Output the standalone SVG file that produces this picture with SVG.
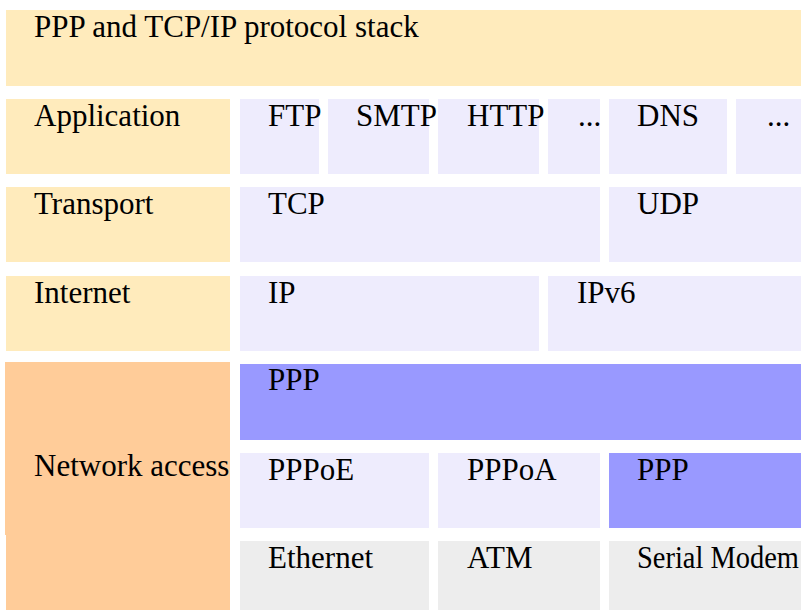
<svg xmlns="http://www.w3.org/2000/svg" width="801" height="610" viewBox="0 0 801 610">
<style>
text{font-family:"Liberation Serif","Times New Roman",serif;font-size:31px;fill:#000}
.y{fill:#FFEBBC}.l{fill:#EEECFD}.p{fill:#9999FF}.o{fill:#FFCC99}.g{fill:#EDEDED}
</style>
<rect width="801" height="610" fill="#fff"/>
<g id="title"><rect class="y" x="6" y="10" width="795" height="76"/><text x="34" y="37">PPP and TCP/IP protocol stack</text></g>
<g id="application"><rect class="y" x="6" y="99" width="224" height="75"/><text x="34" y="126">Application</text></g>
<g id="ftp"><rect class="l" x="240" y="99" width="79" height="75"/><text x="268" y="126">FTP</text></g>
<g id="smtp"><rect class="l" x="328" y="99" width="101" height="75"/><text x="356" y="126">SMTP</text></g>
<g id="http"><rect class="l" x="438" y="99" width="101" height="75"/><text x="467" y="126">HTTP</text></g>
<g id="etc1"><rect class="l" x="548" y="99" width="52" height="75"/><text x="578" y="126">...</text></g>
<g id="dns"><rect class="l" x="609" y="99" width="118" height="75"/><text x="637" y="126">DNS</text></g>
<g id="etc2"><rect class="l" x="736" y="99" width="65" height="75"/><text x="767" y="126">...</text></g>
<g id="transport"><rect class="y" x="6" y="187" width="224" height="75"/><text x="34" y="214">Transport</text></g>
<g id="tcp"><rect class="l" x="240" y="187" width="360" height="75"/><text x="268" y="214">TCP</text></g>
<g id="udp"><rect class="l" x="609" y="187" width="192" height="75"/><text x="637" y="214">UDP</text></g>
<g id="internet"><rect class="y" x="6" y="276" width="224" height="75"/><text x="34" y="303">Internet</text></g>
<g id="ip"><rect class="l" x="240" y="276" width="299" height="75"/><text x="268" y="303">IP</text></g>
<g id="ipv6"><rect class="l" x="548" y="276" width="253" height="75"/><text x="577" y="303">IPv6</text></g>
<g id="network-access"><rect class="o" x="5" y="362" width="225" height="173"/><rect class="o" x="6" y="535" width="224" height="75"/><text x="34" y="476">Network access</text></g>
<g id="ppp-top"><rect class="p" x="240" y="364" width="561" height="76"/><text x="268" y="390">PPP</text></g>
<g id="pppoe"><rect class="l" x="240" y="453" width="189" height="75"/><text x="268" y="480">PPPoE</text></g>
<g id="pppoa"><rect class="l" x="438" y="453" width="162" height="75"/><text x="467" y="480">PPPoA</text></g>
<g id="ppp-serial"><rect class="p" x="609" y="453" width="192" height="75"/><text x="637" y="480">PPP</text></g>
<g id="ethernet"><rect class="g" x="240" y="541" width="189" height="69"/><text x="268" y="568">Ethernet</text></g>
<g id="atm"><rect class="g" x="438" y="541" width="162" height="69"/><text x="467" y="568">ATM</text></g>
<g id="serial-modem"><rect class="g" x="609" y="541" width="192" height="69"/><text x="637" y="568" textLength="162" lengthAdjust="spacingAndGlyphs">Serial Modem</text></g>
<g id="connectors"/>
</svg>
